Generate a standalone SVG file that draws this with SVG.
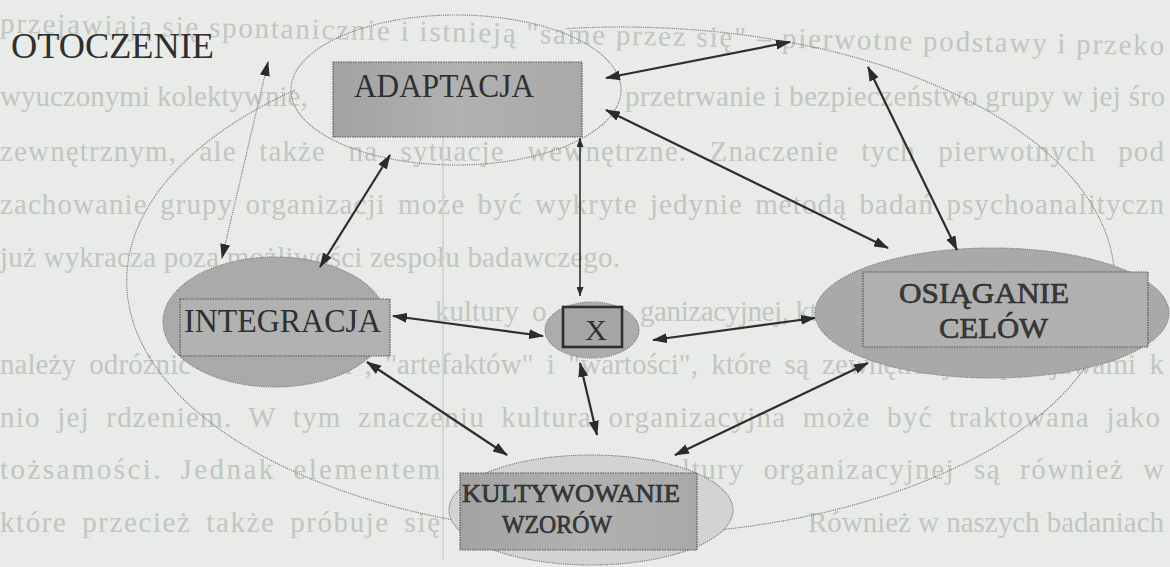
<svg xmlns="http://www.w3.org/2000/svg" width="1170" height="567" viewBox="0 0 1170 567">
<style>
.bgt{font-family:"Liberation Serif","Times New Roman",serif;font-size:29px;fill:#c2c5c1}
.lbl{font-family:"Liberation Serif","Times New Roman",serif;fill:#2f2f2f}
.lbo{font-family:"Liberation Serif","Times New Roman",serif;fill:#3a3a3a;stroke:#262626;stroke-width:0.6}
.dot{fill:none;stroke:#7a7a7a;stroke-width:1.1;stroke-dasharray:1.2 1}
.nodeE{stroke:#7a7a7a;stroke-width:1.1;stroke-dasharray:1.2 1}
.rectD{stroke:#555;stroke-width:1.2;stroke-dasharray:1.5 1}
.con{stroke:#2e2e2e;stroke-width:2.2;fill:none;marker-start:url(#ah);marker-end:url(#ah)}
</style>
<defs>
<marker id="ah" viewBox="0 0 15 10" refX="14" refY="5" markerWidth="15" markerHeight="10" markerUnits="userSpaceOnUse" orient="auto-start-reverse"><path d="M0,0 L15,5 L0,10 z" fill="#2b2b2b"/></marker>
<marker id="as" viewBox="0 0 9 7" refX="9" refY="3.5" markerWidth="9" markerHeight="7" markerUnits="userSpaceOnUse" orient="auto-start-reverse"><path d="M0,0 L9,3.5 L0,7 z" fill="#2b2b2b"/></marker>
<linearGradient id="gr" x1="0" y1="0" x2="1" y2="0"><stop offset="0" stop-color="#a2a2a2"/><stop offset="0.5" stop-color="#b1b1b1"/><stop offset="1" stop-color="#a9a9a9"/></linearGradient>
</defs>
<rect x="0" y="0" width="1170" height="567" fill="#e8ebe7"/>
<g id="page-text">
<text class="bgt" x="0" y="44" transform="rotate(1.1 585 44)" textLength="1164" lengthAdjust="spacing">przejawiają się spontanicznie i istnieją "same przez się" – pierwotne podstawy i przeko</text>
<text class="bgt" x="0" y="106">wyuczonymi kolektywnie,</text>
<text class="bgt" x="625" y="106" textLength="540" lengthAdjust="spacing">przetrwanie i bezpieczeństwo grupy w jej śro</text>
<text class="bgt" x="0" y="161" word-spacing="14" textLength="1164" lengthAdjust="spacing">zewnętrznym, ale także na sytuacje wewnętrzne. Znaczenie tych pierwotnych pod</text>
<text class="bgt" x="0" y="214" word-spacing="4" textLength="1164" lengthAdjust="spacing">zachowanie grupy organizacji może być wykryte jedynie metodą badań psychoanalityczn</text>
<text class="bgt" x="0" y="267" textLength="620" lengthAdjust="spacing">już wykracza poza możliwości zespołu badawczego.</text>
<text class="bgt" x="435" y="321" word-spacing="6">kultury o</text>
<text class="bgt" x="640" y="321" textLength="215" lengthAdjust="spacing">ganizacyjnej, który</text>
<text class="bgt" x="0" y="374" word-spacing="6" textLength="1164" lengthAdjust="spacing">należy odróżnić od "symboli", "artefaktów" i "wartości", które są zewnętrznymi przejawami k</text>
<text class="bgt" x="0" y="427" word-spacing="8" textLength="1160" lengthAdjust="spacing">nio jej rdzeniem. W tym znaczeniu kultura organizacyjna może być traktowana jako</text>
<text class="bgt" x="0" y="479" word-spacing="8" textLength="440" lengthAdjust="spacing">tożsamości. Jednak elementem</text>
<text class="bgt" x="650" y="479" word-spacing="10" textLength="514" lengthAdjust="spacing">kultury organizacyjnej są również w</text>
<text class="bgt" x="0" y="532" word-spacing="6" textLength="440" lengthAdjust="spacing">które przecież także próbuje się</text>
<text class="bgt" x="808" y="532" textLength="356" lengthAdjust="spacing">Również w naszych badaniach</text>
<line x1="443" y1="130" x2="443" y2="560" stroke="#d3d6d2" stroke-width="2"/>
</g>
<g id="otoczenie">
<path class="dot" d="M295,90 A494,254 0 1 0 565,28.6"/>
<text class="lbl" x="11" y="58" font-size="35" textLength="203" lengthAdjust="spacingAndGlyphs">OTOCZENIE</text>
</g>
<g id="adaptacja">
<ellipse class="dot" cx="456" cy="90" rx="165" ry="75"/>
<rect class="rectD" x="333" y="62" width="249" height="75" fill="url(#gr)"/>
<text class="lbl" x="354" y="97" font-size="33" textLength="180" lengthAdjust="spacingAndGlyphs">ADAPTACJA</text>
</g>
<g id="integracja">
<ellipse class="nodeE" cx="275" cy="322" rx="112" ry="65" fill="#a9aaa9"/>
<rect class="rectD" x="180" y="299" width="210" height="57" fill="#b0b1b0"/>
<text class="lbl" x="184" y="332" font-size="33" textLength="197" lengthAdjust="spacingAndGlyphs">INTEGRACJA</text>
</g>
<g id="x">
<ellipse class="nodeE" cx="592" cy="330" rx="47" ry="28" fill="#acacac"/>
<rect x="563" y="307" width="59" height="40" fill="#a6a6a6" stroke="#2e2e2e" stroke-width="2.6"/>
<text class="lbl" x="585" y="340" font-size="30" textLength="22" lengthAdjust="spacingAndGlyphs">X</text>
</g>
<g id="osiaganie">
<ellipse class="nodeE" cx="992" cy="313" rx="177" ry="65" fill="#a9a9a9"/>
<rect class="rectD" x="863" y="272" width="285" height="75" fill="#b0b0b0"/>
<text class="lbo" x="899" y="303" font-size="30" textLength="170" lengthAdjust="spacingAndGlyphs">OSIĄGANIE</text>
<text class="lbo" x="939" y="338" font-size="30" textLength="109" lengthAdjust="spacingAndGlyphs">CELÓW</text>
</g>
<g id="kultywowanie">
<ellipse class="nodeE" cx="591" cy="510" rx="142" ry="55" fill="#d2d4d1"/>
<rect class="rectD" x="460" y="473" width="237" height="77" fill="url(#gr)"/>
<text class="lbo" x="462" y="502" font-size="26" textLength="218" lengthAdjust="spacingAndGlyphs">KULTYWOWANIE</text>
<text class="lbo" x="502" y="533" font-size="26" textLength="110" lengthAdjust="spacingAndGlyphs">WZORÓW</text>
</g>
<g id="connectors">
<line class="con" x1="606" y1="78" x2="790" y2="42"/>
<line class="con" x1="606" y1="110" x2="888" y2="248"/>
<line class="con" x1="868" y1="67" x2="957" y2="250"/>
<line class="con" x1="390" y1="155" x2="320" y2="267"/>
<line x1="268" y1="62" x2="222" y2="258" stroke="#7a7a7a" stroke-width="1.1" stroke-dasharray="1.2 1" marker-start="url(#ah)" marker-end="url(#ah)"/>
<line x1="580" y1="138" x2="580" y2="296" stroke="#2e2e2e" stroke-width="1.6" marker-start="url(#as)" marker-end="url(#as)"/>
<line class="con" x1="393" y1="316" x2="543" y2="336"/>
<line class="con" x1="653" y1="340" x2="815" y2="318"/>
<line class="con" x1="367" y1="362" x2="507" y2="455"/>
<line class="con" x1="580" y1="363" x2="597" y2="435"/>
<line class="con" x1="675" y1="455" x2="868" y2="363"/>
</g>
</svg>
